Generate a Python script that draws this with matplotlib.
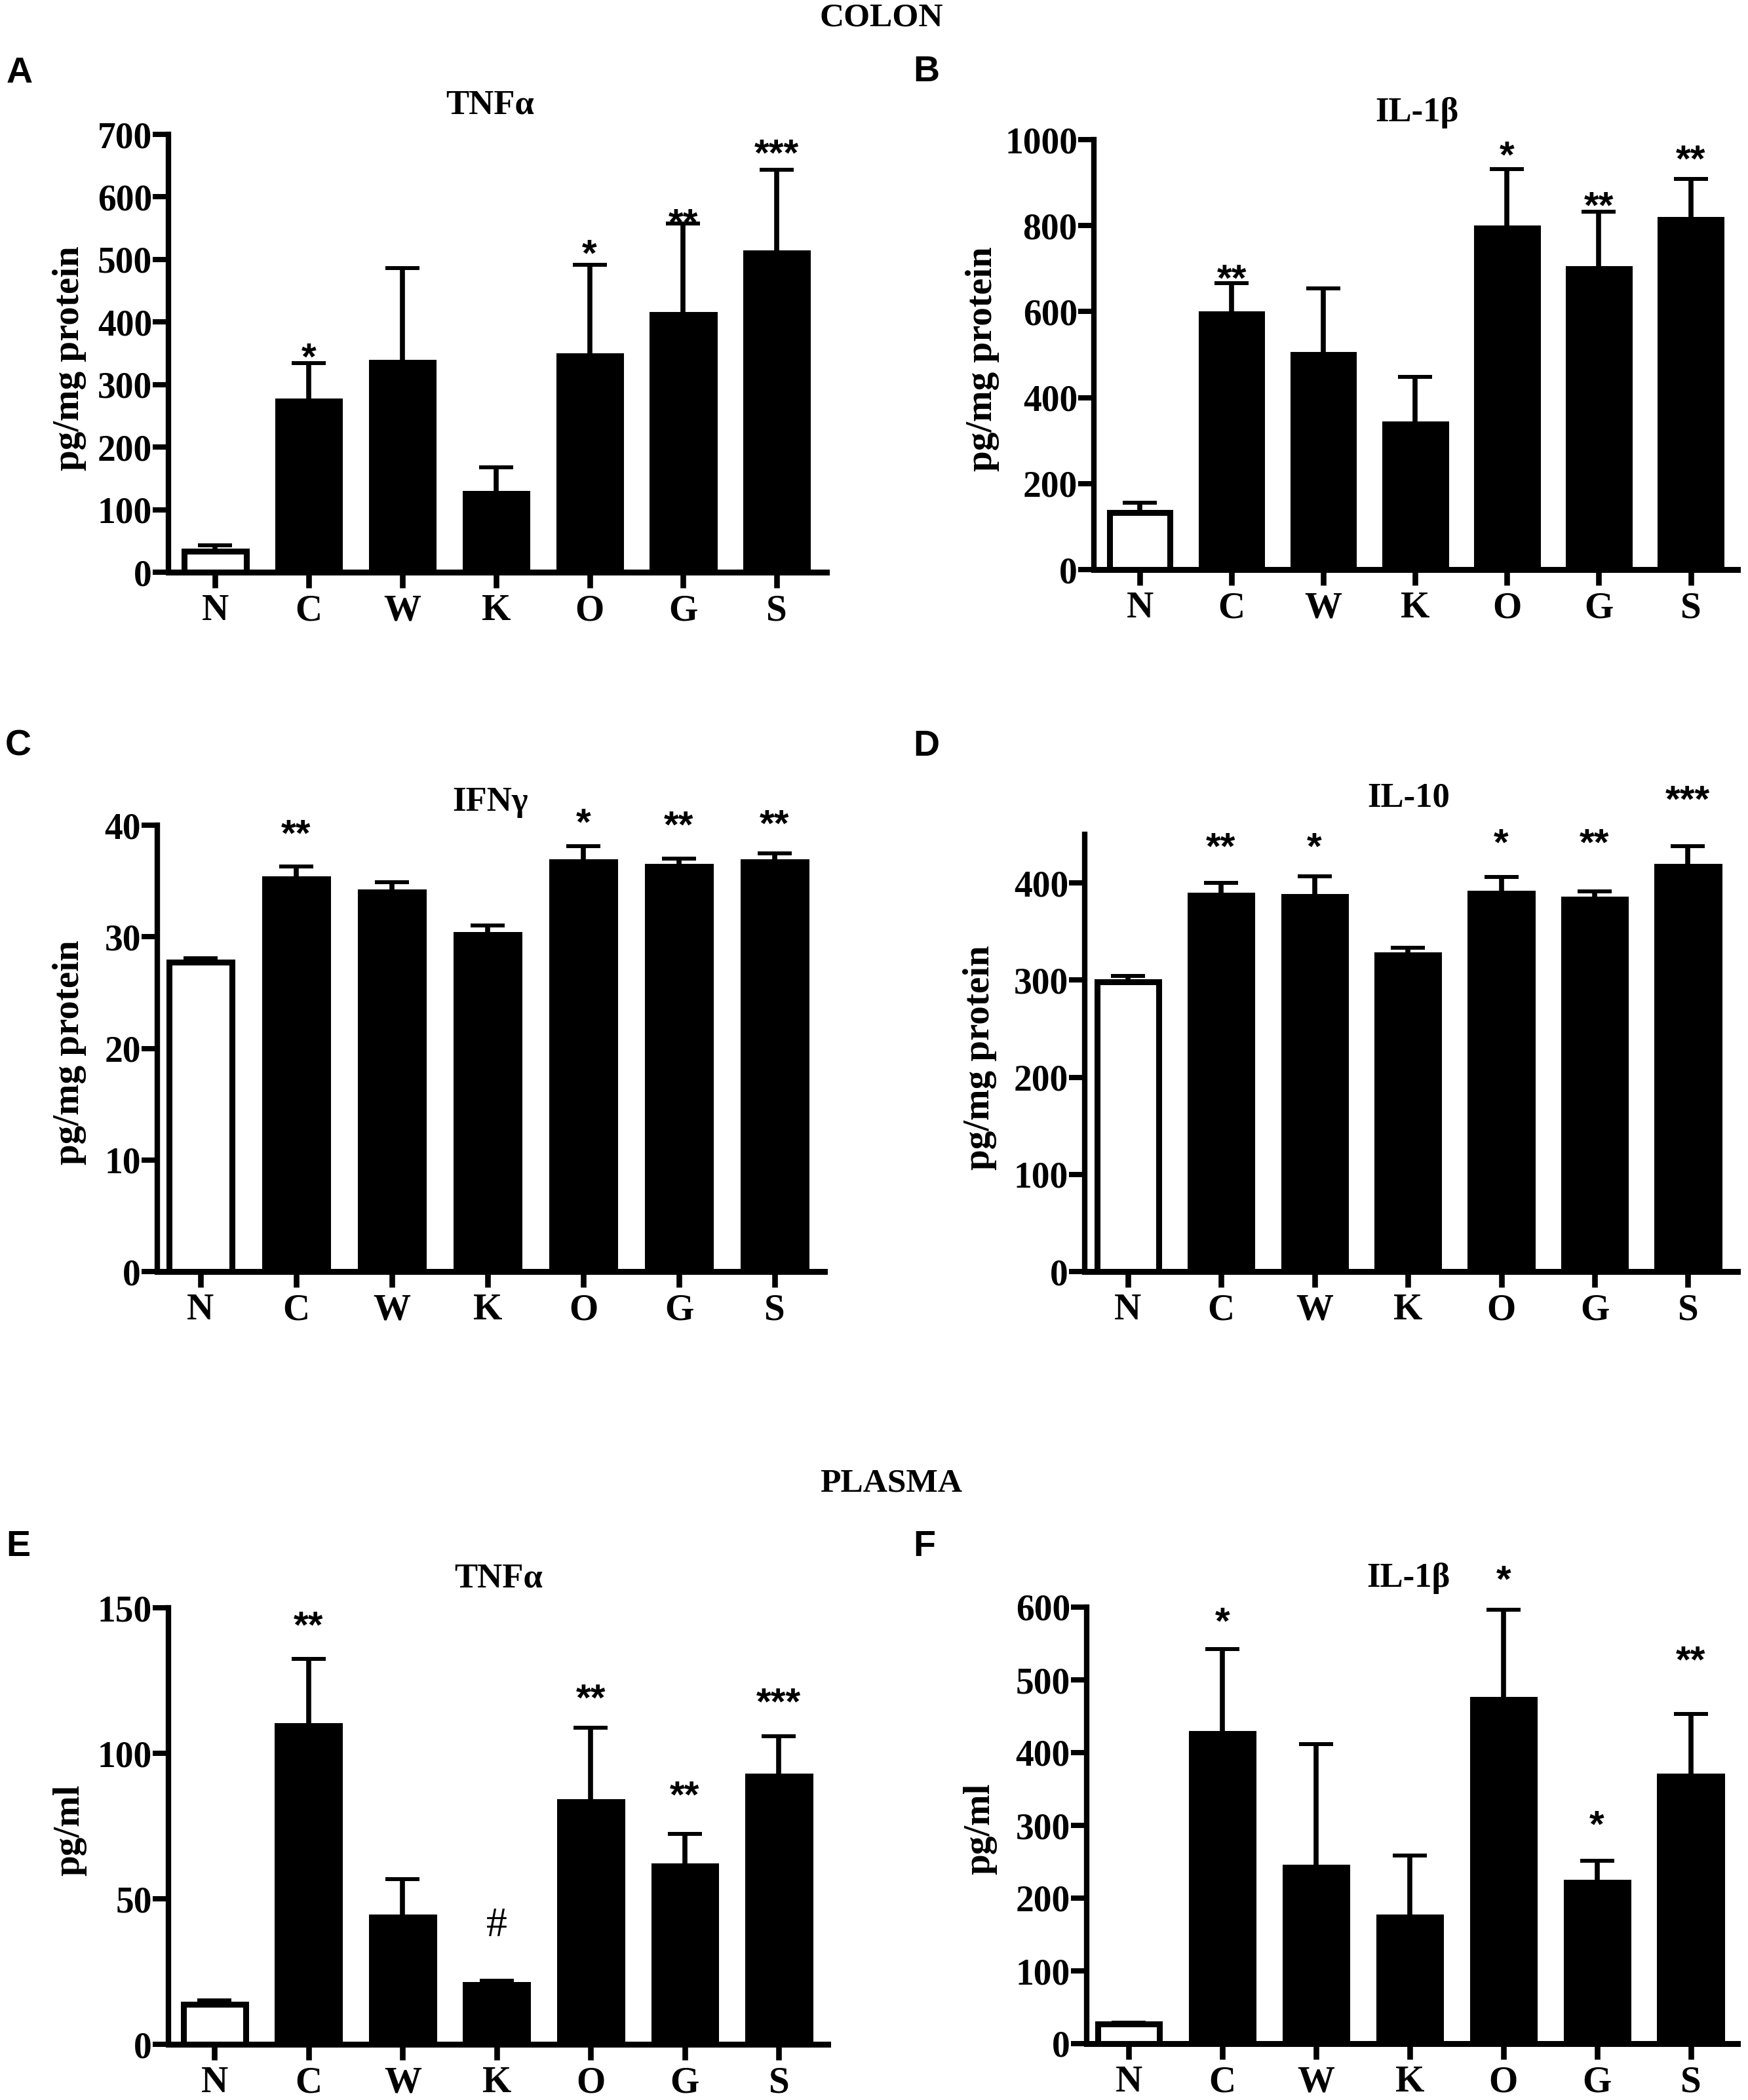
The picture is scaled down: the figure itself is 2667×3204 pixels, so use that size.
import numpy as np
import matplotlib
matplotlib.use("Agg")
import matplotlib.pyplot as plt

# ---------------- data ----------------
groups = ["N", "C", "W", "K", "O", "G", "S"]

colon_tnf = [34, 273, 335, 126, 346, 412, 510]
colon_tnf_sem = [9, 61, 151, 42, 145, 145, 133]
colon_tnf_stars = ["", "*", "", "", "*", "**", "***"]
colon_tnf_star_y = [0, 358, 0, 0, 523, 573, 684]

colon_il1b = [132, 594, 500, 339, 794, 700, 814]
colon_il1b_sem = [23, 72, 154, 109, 137, 133, 95]
colon_il1b_stars = ["", "**", "", "", "*", "**", "**"]
colon_il1b_star_y = [0, 697, 0, 0, 984, 867, 975]

colon_ifng = [27.7, 35.2, 34.0, 30.2, 36.7, 36.3, 36.7]
colon_ifng_sem = [0.4, 1.1, 0.9, 0.8, 1.4, 0.7, 0.8]
colon_ifng_stars = ["", "**", "", "", "*", "**", "**"]
colon_ifng_star_y = [0, 40.0, 0, 0, 41.0, 40.8, 40.9]

colon_il10 = [298, 387, 386, 326, 389, 383, 417]
colon_il10_sem = [6, 13, 21, 7, 17, 8, 21]
colon_il10_stars = ["", "**", "*", "", "*", "**", "***"]
colon_il10_star_y = [0, 446, 446, 0, 450, 450, 495]

plasma_tnf = [13.7, 109.4, 43.7, 20.5, 83.4, 61.2, 92.2]
plasma_tnf_sem = [1.5, 23.1, 13.0, 1.4, 25.4, 11.0, 13.7]
plasma_tnf_stars = ["", "**", "", "#", "**", "**", "***"]
plasma_tnf_star_y = [0, 147, 0, 42, 122, 88.7, 120.5]

plasma_il1b = [26.6, 426, 242, 174, 473, 222, 368]
plasma_il1b_sem = [2.4, 116, 170, 85, 123, 29, 85]
plasma_il1b_stars = ["", "*", "", "", "*", "*", "**"]
plasma_il1b_star_y = [0, 592, 0, 0, 650, 313, 539]

# ---------------- figure ----------------
W, H = 2667, 3204
DPI = 100
plt.rcParams["font.family"] = ["Liberation Serif", "DejaVu Serif"]
plt.rcParams["font.weight"] = "bold"
fig = plt.figure(figsize=(W / DPI, H / DPI), dpi=DPI)
SANS = ["Liberation Sans", "DejaVu Sans"]


def px_text(x, y, s, **kw):
    kw.setdefault("ha", "center")
    kw.setdefault("va", "center")
    fig.text(x / W, 1 - y / H, s, **kw)


def make_panel(rect_px, xlim, vals, sems, stars, star_y, ylim, yticks,
               title, title_xy, ylabel, ylabel_xy, letter, letter_xy):
    spine_x, right_x, zero_y, top_y = rect_px
    ax = fig.add_axes([spine_x / W, 1 - zero_y / H,
                       (right_x - spine_x) / W, (zero_y - top_y) / H])
    x = np.arange(len(groups))
    colors = ["white"] + ["black"] * (len(groups) - 1)
    ax.bar(x, vals, width=0.66, color=colors, edgecolor="black",
           linewidth=6.5, zorder=2)
    ax.errorbar(x, vals, yerr=[np.zeros(len(vals)), sems], fmt="none",
                ecolor="black", elinewidth=5.5, capsize=19, capthick=4.3,
                zorder=3)
    for xi, s, sy in zip(x, stars, star_y):
        if not s:
            continue
        if s == "#":
            ax.annotate(s, (xi, sy), xytext=(0, -15.5), textcoords="offset points",
                        ha="center", va="baseline", fontsize=46,
                        fontweight="normal", annotation_clip=False)
        else:
            ax.annotate(s, (xi, sy), xytext=(0, -23), textcoords="offset points",
                        ha="center", va="baseline", fontsize=42,
                        fontweight="bold", family=SANS, annotation_clip=False)
    ax.set_xlim(*xlim)
    ax.set_ylim(*ylim)
    ax.set_yticks(yticks)
    ax.set_yticklabels([str(v) for v in yticks])
    ax.set_xticks(x)
    ax.set_xticklabels(groups)
    for sp in ["top", "right"]:
        ax.spines[sp].set_visible(False)
    ax.spines["left"].set_linewidth(6)
    ax.spines["bottom"].set_linewidth(6.5)
    for sp in ["left", "bottom"]:
        ax.spines[sp].set_capstyle("projecting")
    ax.tick_params(axis="x", direction="out", length=17, width=6.2, pad=7,
                   labelsize=41)
    ax.tick_params(axis="y", direction="out", length=17, width=5.8, pad=1,
                   labelsize=40)
    for lab in ax.get_xticklabels() + ax.get_yticklabels():
        lab.set_fontweight("bold")
    px_text(*title_xy, title, fontsize=38, fontweight="bold")
    px_text(*ylabel_xy, ylabel, fontsize=41, fontweight="bold", rotation=90)
    px_text(*letter_xy, letter, fontsize=40, fontweight="bold", family=SANS)
    return ax


px_text(1345, 27, "COLON", fontsize=37, fontweight="bold")
px_text(1360, 2263, "PLASMA", fontsize=37, fontweight="bold")

make_panel((257, 1261, 873, 205), (-0.5, 6.53), colon_tnf, colon_tnf_sem,
           colon_tnf_stars, colon_tnf_star_y, (0, 700), list(range(0, 701, 100)),
           "TNFα", (748, 160), "pg/mg protein", (106, 547), "A", (30, 112))

make_panel((1669, 2651, 869, 213), (-0.5, 6.51), colon_il1b, colon_il1b_sem,
           colon_il1b_stars, colon_il1b_star_y, (0, 1000), list(range(0, 1001, 200)),
           "IL-1β", (2162, 172), "pg/mg protein", (1499, 548), "B", (1413, 110))

make_panel((240, 1258, 1940, 1259), (-0.45, 6.52), colon_ifng, colon_ifng_sem,
           colon_ifng_stars, colon_ifng_star_y, (0, 40), list(range(0, 41, 10)),
           "IFNγ", (748, 1224), "pg/mg protein", (106, 1606), "C", (28, 1139))

make_panel((1655, 2651, 1940, 1273), (-0.46, 6.53), colon_il10, colon_il10_sem,
           colon_il10_stars, colon_il10_star_y, (0, 450), list(range(0, 401, 100)),
           "IL-10", (2149, 1218), "pg/mg protein", (1495, 1614), "D", (1413, 1139))

make_panel((257, 1263, 3119, 2453), (-0.49, 6.52), plasma_tnf, plasma_tnf_sem,
           plasma_tnf_stars, plasma_tnf_star_y, (0, 150), [0, 50, 100, 150],
           "TNFα", (761, 2408), "pg/ml", (106, 2792), "E", (28, 2360))

make_panel((1658, 2651, 3118, 2452), (-0.45, 6.5), plasma_il1b, plasma_il1b_sem,
           plasma_il1b_stars, plasma_il1b_star_y, (0, 600), list(range(0, 601, 100)),
           "IL-1β", (2149, 2408), "pg/ml", (1495, 2790), "F", (1410, 2360))

fig.savefig("out.png", dpi=DPI, facecolor="white")
